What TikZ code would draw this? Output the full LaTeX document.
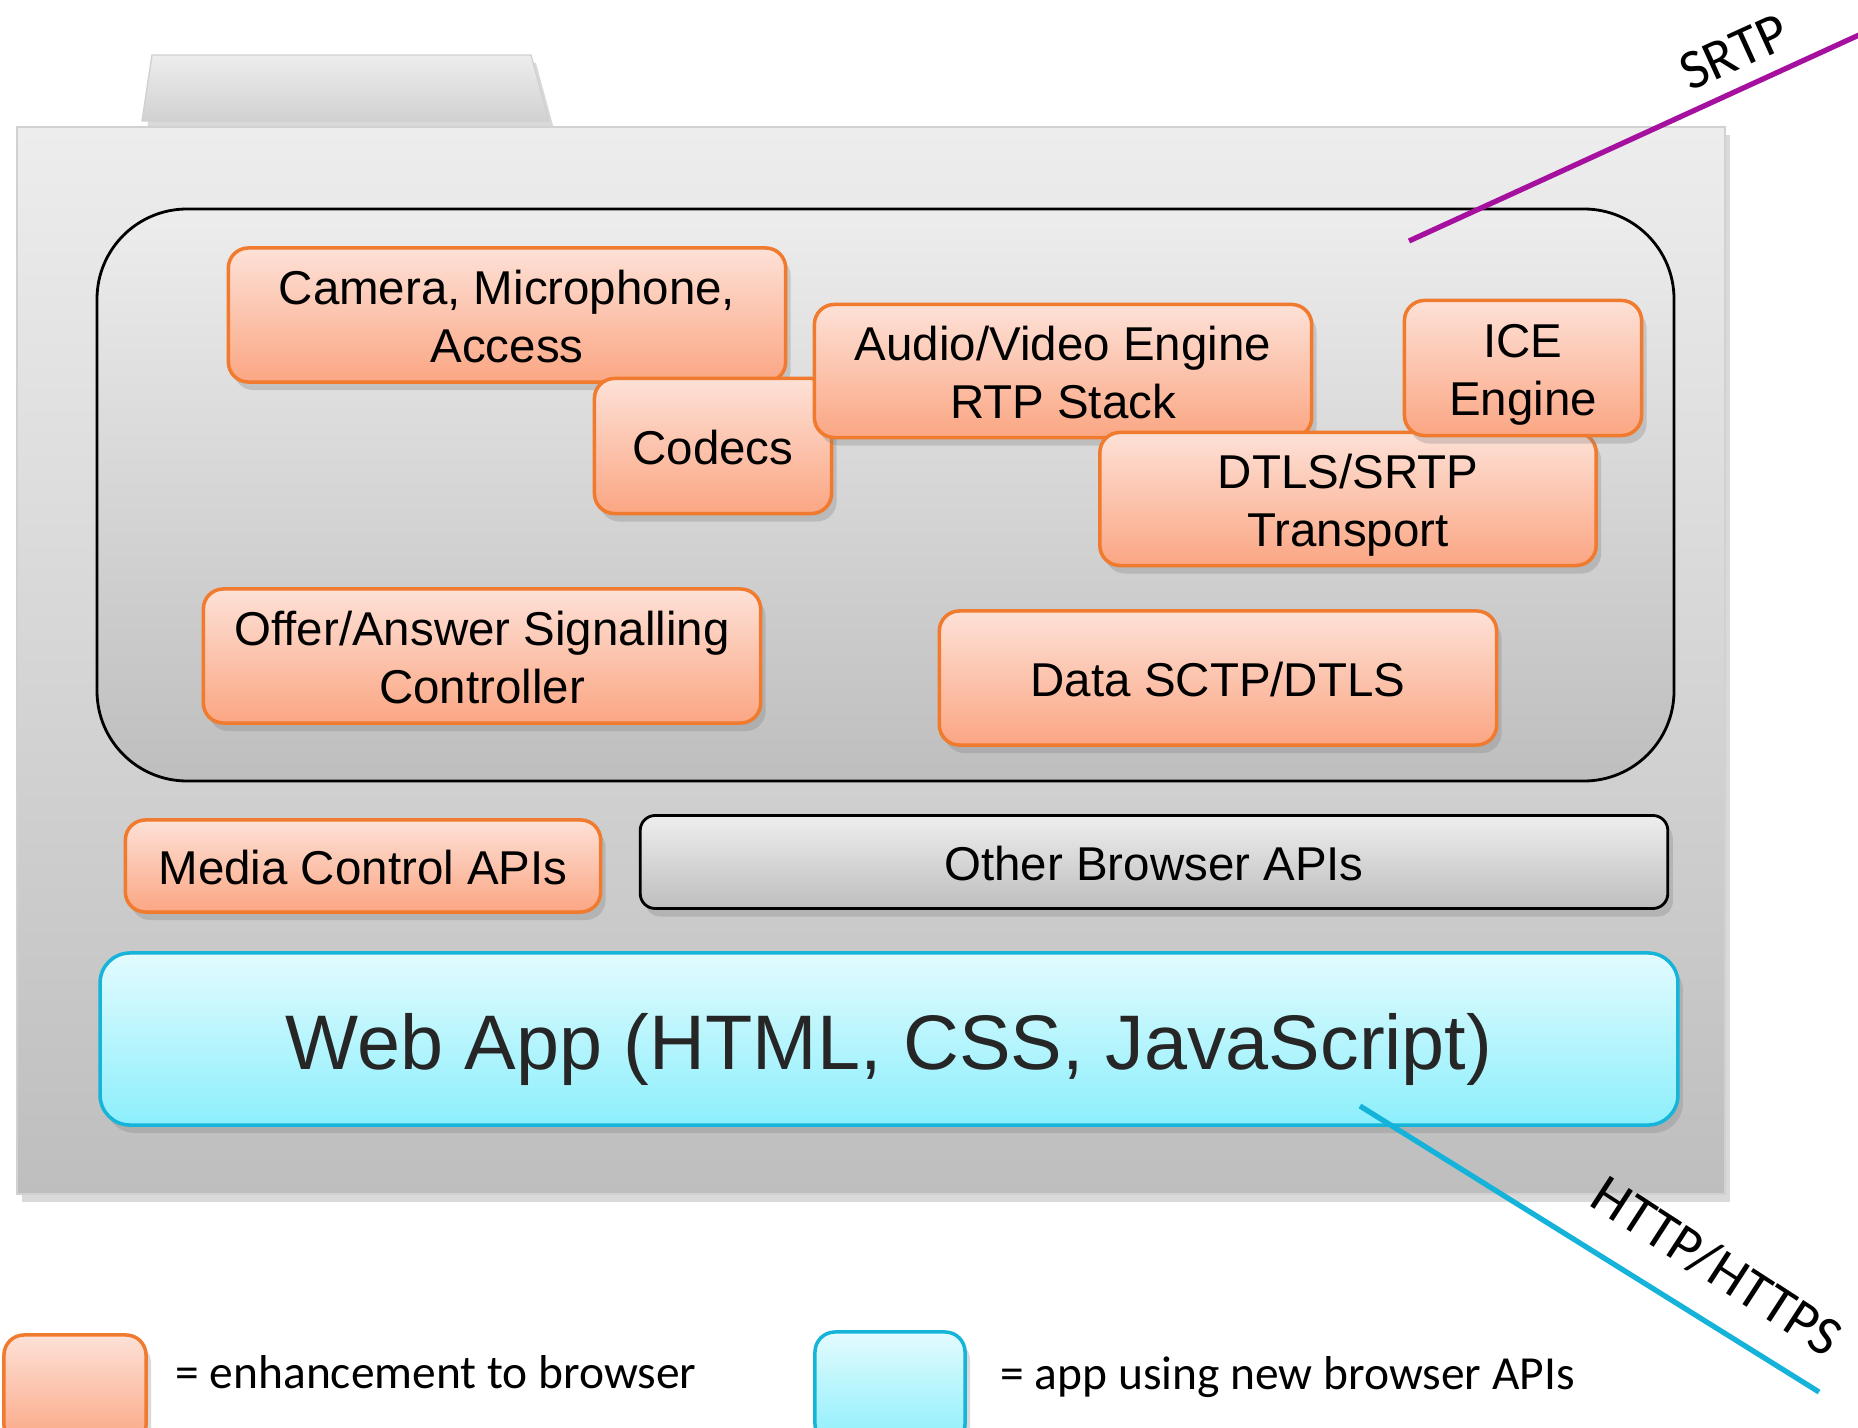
\documentclass[tikz,border=0pt]{standalone}
\usepackage{fontspec}
\setmainfont{Liberation Sans}
\newfontfamily\calibfont{Carlito}
\usetikzlibrary{shadows}
\definecolor{enhtop}{HTML}{FDE1D7}
\definecolor{enhbot}{HTML}{FBA683}
\definecolor{enhline}{HTML}{F07A2E}
\definecolor{apptop}{HTML}{E3FBFE}
\definecolor{appbot}{HTML}{8CEFFC}
\definecolor{appline}{HTML}{17B4DA}
\definecolor{srtpcol}{HTML}{A5109F}
\definecolor{httpcol}{HTML}{15B3DA}
\definecolor{paneltop}{HTML}{EDEDED}
\definecolor{panelbot}{HTML}{BEBEBE}
\newcommand{\stackedlabel}[2]{\begin{tabular}{@{}c@{}}\rule{0pt}{15.5pt}#1\\#2\end{tabular}}
\tikzset{
  softshadow/.style={drop shadow={shadow xshift=0.5mm, shadow yshift=-0.8mm, opacity=0.3}},
  boxtext/.style={font=\fontsize{13.5}{16.5}\selectfont,
    execute at begin node={\rule{0pt}{15.5pt}}, execute at end node={\strut}},
  enh/.style={draw=enhline, line width=1pt, rounded corners=2mm, top color=enhtop, bottom color=enhbot,
    inner sep=0pt, boxtext, softshadow},
  app/.style={draw=appline, line width=1pt, rounded corners=3mm, top color=apptop, bottom color=appbot,
    inner sep=0pt, softshadow},
  plain/.style={draw=black, line width=0.8pt, rounded corners=1.5mm, top color=paneltop!95!white, bottom color=panelbot,
    inner sep=0pt, boxtext, softshadow},
  legtext/.style={anchor=west, font=\calibfont\fontsize{13.5}{16}\selectfont},
  wire/.style={line width=1.5pt}
}
\begin{document}
\begin{tikzpicture}[x=0.01cm, y=-0.01cm]
\clip (0,0) rectangle (1858,1428);
\path [draw=black!18, top color=paneltop, bottom color=black!18, softshadow] (152,55) -- (531,55) -- (549,121) -- (142,121) -- cycle;
\path [draw=black!18, top color=paneltop, bottom color=panelbot, softshadow] (17,127) rectangle (1725,1194);
\path [draw=black, line width=0.8pt, rounded corners=9mm, top color=paneltop, bottom color=panelbot] (97,209) rectangle (1674,781);
\node [enh, minimum width=5.57cm, minimum height=1.34cm] (cam) at (507,315) {\stackedlabel{Camera, Microphone,}{Access}};
\node [enh, minimum width=2.37cm, minimum height=1.35cm] (codecs) at (713,446) {Codecs};
\node [enh, minimum width=4.97cm, minimum height=1.33cm] (av) at (1063,371) {\stackedlabel{Audio/Video Engine}{RTP Stack}};
\node [enh, minimum width=4.96cm, minimum height=1.33cm] (dtls) at (1348,499) {\stackedlabel{DTLS/SRTP}{Transport}};
\node [enh, minimum width=2.37cm, minimum height=1.35cm] (ice) at (1523,368) {\stackedlabel{ICE}{Engine}};
\node [enh, minimum width=5.57cm, minimum height=1.34cm] (offer) at (482,656) {\stackedlabel{Offer/Answer Signalling}{Controller}};
\node [enh, minimum width=5.57cm, minimum height=1.34cm] (data) at (1218,678) {Data SCTP/DTLS};
\node [enh, minimum width=4.75cm, minimum height=0.92cm] (media) at (363,866) {Media Control APIs};
\node [plain, minimum width=10.27cm, minimum height=0.93cm] (other) at (1154,862) {Other Browser APIs};
\node [app, minimum width=15.77cm, minimum height=1.72cm, text=black!85, font=\fontsize{22}{26}\selectfont,
  execute at begin node={\rule{0pt}{25.3pt}}, execute at end node={\strut}] (webapp) at (889,1039) {Web App (HTML, CSS, JavaScript)};
\coordinate (srtpin) at (1409,241);
\coordinate (srtpout) at (1870,30);
\draw [wire, srtpcol] (srtpin) -- (srtpout);
\node [rotate=24.5, font=\calibfont\fontsize{16}{19}\selectfont] (srtp) at (1734,52) {SRTP};
\coordinate (httpin) at (1360,1106);
\coordinate (httpout) at (1819,1392);
\draw [wire, httpcol] (httpin) -- (httpout);
\node [rotate=-33, font=\calibfont\fontsize{16}{19}\selectfont] (http) at (1717,1266) {HTTP/HTTPS};
\node [enh, minimum width=1.42cm, minimum height=1.1cm] (legenh) at (75,1390) {};
\node [legtext] (legenhtext) at (163,1372) {= enhancement to browser};
\node [app, rounded corners=2mm, minimum width=1.5cm, minimum height=1.12cm] (legapp) at (890,1388) {};
\node [legtext] (legapptext) at (988,1377) {= app using new browser APIs};
\end{tikzpicture}
\end{document}
